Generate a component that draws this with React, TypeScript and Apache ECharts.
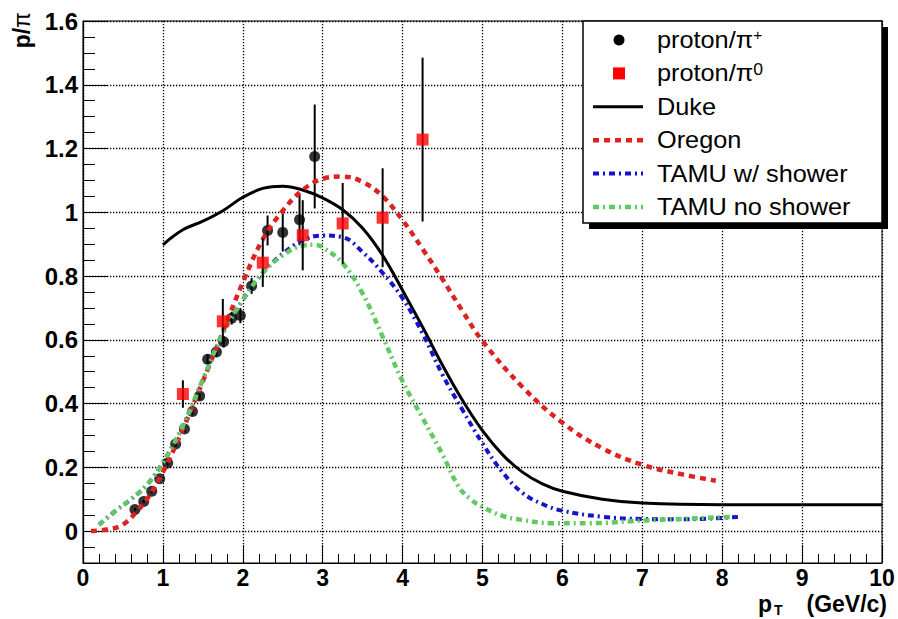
import React, { useEffect, useRef } from 'react';
import * as echarts from 'echarts';

// proton/pi+ : [pT, ratio, error]
const protonPiPlus: number[][] = [
  [0.65, 0.068, 0.005], [0.76, 0.093, 0.005], [0.86, 0.125, 0.006], [0.96, 0.164, 0.007],
  [1.06, 0.214, 0.008], [1.16, 0.273, 0.01], [1.27, 0.32, 0.01], [1.37, 0.375, 0.012],
  [1.46, 0.424, 0.013], [1.56, 0.539, 0.015], [1.67, 0.562, 0.015], [1.76, 0.594, 0.018],
  [1.86, 0.668, 0.02], [1.97, 0.676, 0.024], [2.11, 0.769, 0.025], [2.31, 0.943, 0.047],
  [2.5, 0.937, 0.06], [2.71, 0.977, 0.08], [2.9, 1.175, 0.163],
];
// proton/pi0 : [pT, ratio, error]
const protonPi0: number[][] = [
  [1.25, 0.43, 0.043], [1.75, 0.658, 0.07], [2.25, 0.842, 0.076], [2.75, 0.928, 0.11],
  [3.25, 0.965, 0.127], [3.75, 0.983, 0.155], [4.25, 1.228, 0.257],
];
const duke: number[][] = [
  [1.0, 0.898], [1.25, 0.945], [1.5, 0.972], [1.75, 1.005], [2.0, 1.047], [2.25, 1.075],
  [2.5, 1.082], [2.75, 1.07], [3.0, 1.045], [3.25, 1.008], [3.5, 0.95], [3.75, 0.865],
  [4.0, 0.755], [4.25, 0.64], [4.5, 0.52], [4.75, 0.41], [5.0, 0.315], [5.25, 0.24],
  [5.5, 0.185], [5.75, 0.148], [6.0, 0.125], [6.5, 0.1], [7.0, 0.088], [8.0, 0.083], [10.0, 0.083],
];
const oregon: number[][] = [
  [0.1, 0.0], [0.3, 0.005], [0.45, 0.014], [0.55, 0.03], [0.65, 0.055], [0.8, 0.1],
  [1.0, 0.185], [1.25, 0.32], [1.5, 0.47], [1.75, 0.625], [2.0, 0.78], [2.25, 0.915],
  [2.5, 1.005], [2.75, 1.07], [3.0, 1.105], [3.25, 1.112], [3.5, 1.095], [3.75, 1.05],
  [4.0, 0.975], [4.25, 0.885], [4.5, 0.79], [4.75, 0.69], [5.0, 0.596], [5.5, 0.452],
  [6.0, 0.34], [6.5, 0.26], [7.0, 0.208], [7.5, 0.178], [7.92, 0.158],
];
const tamuShower: number[][] = [
  [0.2, 0.02], [0.4, 0.062], [0.6, 0.1], [0.8, 0.145], [1.0, 0.215], [1.25, 0.33],
  [1.5, 0.475], [1.75, 0.62], [2.0, 0.725], [2.25, 0.81], [2.5, 0.87], [2.75, 0.912],
  [3.0, 0.927], [3.25, 0.922], [3.5, 0.875], [3.75, 0.81], [4.0, 0.73], [4.25, 0.62],
  [4.5, 0.49], [4.75, 0.38], [5.0, 0.275], [5.25, 0.185], [5.5, 0.12], [5.75, 0.085],
  [6.0, 0.064], [6.5, 0.045], [7.0, 0.038], [7.5, 0.037], [8.22, 0.045],
];
const tamuNoShower: number[][] = [
  [0.2, 0.02], [0.4, 0.062], [0.6, 0.1], [0.8, 0.145], [1.0, 0.215], [1.25, 0.33],
  [1.5, 0.475], [1.75, 0.62], [2.0, 0.725], [2.25, 0.81], [2.5, 0.865], [2.75, 0.895],
  [2.9, 0.898], [3.0, 0.89], [3.25, 0.84], [3.5, 0.745], [3.75, 0.61], [4.0, 0.47],
  [4.25, 0.355], [4.5, 0.24], [4.7, 0.14], [4.85, 0.1], [5.0, 0.076], [5.25, 0.048],
  [5.5, 0.035], [5.85, 0.025], [6.35, 0.025], [7.0, 0.033], [8.14, 0.045],
];
const xTickLabels = ['0', '1', '2', '3', '4', '5', '6', '7', '8', '9', '10'];
const yTickValues = [0, 0.2, 0.4, 0.6, 0.8, 1, 1.2, 1.4, 1.6];
const yTickLabels = ['0', '0.2', '0.4', '0.6', '0.8', '1', '1.2', '1.4', '1.6'];
const legendLabels = ['proton/π', 'proton/π', 'Duke', 'Oregon', 'TAMU w/ shower', 'TAMU no shower'];
const legendSup = ['+', '0', '', '', '', ''];

const FONT = '"Liberation Sans", Arial, sans-serif';
const RED = '#dd2222';
const BLUE = '#1414c8';
const GREEN = '#62c962';
const GRID_DOT = { color: '#000', width: 1.3, type: [1.3, 1.7] };

const errorBars = (data: number[][], z: number) => ({
  type: 'custom',
  data,
  encode: { x: 0, y: 1 },
  z,
  silent: true,
  renderItem: (_p: any, api: any) => {
    const x = api.value(0);
    const y = api.value(1);
    const e = api.value(2);
    const a = api.coord([x, y - e]);
    const b = api.coord([x, y + e]);
    return {
      type: 'line',
      shape: { x1: a[0], y1: a[1], x2: b[0], y2: b[1] },
      style: { stroke: '#000', lineWidth: 2 },
    };
  },
});

const curve = (name: string, data: number[][], color: string, width: number, type: any, z: number) => ({
  name,
  type: 'line',
  data,
  z,
  symbol: 'none',
  showSymbol: false,
  smooth: 0.4,
  lineStyle: { color, width, type, cap: 'butt', join: 'round' },
  silent: true,
});

export default function App() {
  const ref = useRef<HTMLDivElement>(null);
  useEffect(() => {
    if (!ref.current) return;
    const chart = echarts.init(ref.current, undefined, { renderer: 'svg' });

    const legX = 583, legY = 21, legW = 299, legH = 202;
    const legendGraphics: any[] = [
      { type: 'rect', shape: { x: legX + 6, y: legY + 6, width: legW, height: legH }, style: { fill: '#000' }, z: 100 },
      { type: 'rect', shape: { x: legX, y: legY, width: legW, height: legH }, style: { fill: '#fff', stroke: '#000', lineWidth: 1.5 }, z: 101 },
    ];
    const sampleStyles: any[] = [
      null,
      null,
      { stroke: '#000', lineWidth: 3 },
      { stroke: RED, lineWidth: 4.5, lineDash: [6, 5] },
      { stroke: BLUE, lineWidth: 4, lineDash: [6, 4, 2, 4] },
      { stroke: GREEN, lineWidth: 4.5, lineDash: [6, 4, 2, 4] },
    ];
    legendLabels.forEach((lab, i) => {
      const cy = 40 + 33.4 * i;
      if (i === 0) {
        legendGraphics.push({ type: 'circle', shape: { cx: 619, cy, r: 5.5 }, style: { fill: '#000' }, z: 102 });
      } else if (i === 1) {
        legendGraphics.push({ type: 'rect', shape: { x: 613, y: cy - 6, width: 12, height: 12 }, style: { fill: '#ff0000' }, z: 102 });
      } else {
        legendGraphics.push({ type: 'line', shape: { x1: 593, y1: cy, x2: 643, y2: cy }, style: sampleStyles[i], z: 102 });
      }
      const sup = legendSup[i];
      legendGraphics.push({
        type: 'text',
        x: 657,
        y: cy,
        scaleX: 1.1,
        z: 103,
        style: {
          text: sup ? `{m|${lab}}{s|${sup}}` : `{m|${lab}}`,
          align: 'left',
          verticalAlign: 'middle',
          fill: '#000',
          rich: {
            m: { fontFamily: FONT, fontSize: 23, lineHeight: 23, fill: '#000' },
            s: { fontFamily: FONT, fontSize: sup === '+' ? 14 : 16, lineHeight: 14, verticalAlign: 'top', fill: '#000' },
          },
        },
      });
    });

    const option: any = {
      animation: false,
      backgroundColor: '#fff',
      grid: {
        left: 83, right: 16, top: 21, bottom: 56,
        show: true, borderColor: '#000', borderWidth: 1, backgroundColor: 'transparent',
        containLabel: false,
      },
      xAxis: {
        type: 'value', min: 0, max: 10, interval: 1,
        axisLine: { show: true, onZero: false, lineStyle: { color: '#000', width: 1.2 } },
        axisTick: { show: true, inside: true, length: 18, lineStyle: { color: '#000', width: 1 } },
        minorTick: { show: true, splitNumber: 5, length: 9, lineStyle: { color: '#000', width: 1 } },
        axisLabel: {
          margin: 3, color: '#000', fontFamily: FONT, fontWeight: 'bold', fontSize: 23,
          formatter: (v: number) => xTickLabels[Math.round(v)] ?? '',
        },
        splitLine: { show: true, lineStyle: GRID_DOT },
        z: 1,
      },
      yAxis: [
        {
          type: 'value', min: -0.1, max: 1.6, interval: 0.05, position: 'left',
          axisLine: { show: true, onZero: false, lineStyle: { color: '#000', width: 1.2 } },
          axisTick: { show: true, inside: true, length: 12, lineStyle: { color: '#000', width: 1 } },
          axisLabel: { show: false },
          splitLine: { show: false },
        },
        {
          type: 'value', min: -0.1, max: 1.6, position: 'left', offset: 0,
          axisLine: { show: false },
          axisTick: { show: true, inside: true, length: 24, customValues: yTickValues, lineStyle: { color: '#000', width: 1 } },
          axisLabel: {
            show: true, customValues: yTickValues, margin: 5, color: '#000',
            fontFamily: FONT, fontWeight: 'bold', fontSize: 24,
            formatter: (v: number) => {
              const idx = yTickValues.findIndex((t) => Math.abs(t - v) < 1e-6);
              return idx >= 0 ? yTickLabels[idx] : '';
            },
          },
          splitLine: { show: true, lineStyle: GRID_DOT },
          z: 1,
        },
      ],
      series: [
        errorBars(protonPiPlus, 3),
        {
          name: 'proton/pi+', type: 'scatter', z: 3, silent: true,
          data: protonPiPlus.map((d) => [d[0], d[1]]),
          symbol: 'circle', symbolSize: 11, itemStyle: { color: '#000' },
        },
        curve('Duke', duke, '#000', 3, 'solid', 4),
        curve('Oregon', oregon, RED, 4.5, [6, 5], 4),
        curve('TAMU w/ shower', tamuShower, BLUE, 4, [6, 4, 2, 4], 4),
        curve('TAMU no shower', tamuNoShower, GREEN, 4.5, [6, 4, 2, 4], 4),
        errorBars(protonPi0, 5),
        {
          name: 'proton/pi0', type: 'scatter', z: 5, silent: true,
          data: protonPi0.map((d) => [d[0], d[1]]),
          symbol: 'rect', symbolSize: 12, itemStyle: { color: '#ff0000' },
        },
      ],
      graphic: [
        {
          type: 'text', x: 22, y: 12, rotation: Math.PI / 2, z: 100,
          style: {
            text: '{b|p/}{n|π}', align: 'right', verticalAlign: 'middle', fill: '#000',
            rich: {
              b: { fontFamily: FONT, fontWeight: 'bold', fontSize: 23, fill: '#000' },
              n: { fontFamily: FONT, fontWeight: 'normal', fontSize: 23, fill: '#000' },
            },
          },
        },
        {
          type: 'text', x: 758, y: 604, z: 100,
          style: { text: 'p', fontFamily: FONT, fontWeight: 'bold', fontSize: 23, align: 'left', verticalAlign: 'middle', fill: '#000' },
        },
        {
          type: 'text', x: 774, y: 610, z: 100,
          style: { text: 'T', fontFamily: FONT, fontWeight: 'bold', fontSize: 14, align: 'left', verticalAlign: 'middle', fill: '#000' },
        },
        {
          type: 'text', x: 887, y: 604, z: 100,
          style: { text: '(GeV/c)', fontFamily: FONT, fontWeight: 'bold', fontSize: 23, align: 'right', verticalAlign: 'middle', fill: '#000' },
        },
        ...legendGraphics,
      ],
    };
    chart.setOption(option);
    return () => chart.dispose();
  }, []);
  return <div ref={ref} style={{ position: 'fixed', left: 0, top: 0, width: 898, height: 619 }} />;
}
